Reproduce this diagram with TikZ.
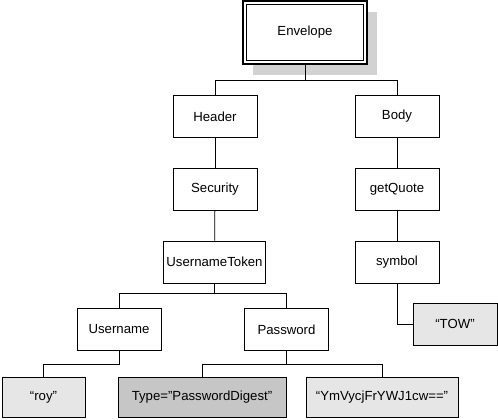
\documentclass[tikz,border=0pt]{standalone}
\usepackage{fontspec}
\setmainfont{Liberation Sans}
\usetikzlibrary{shadows}

\definecolor{leafgray}{HTML}{E6E6E6}
\definecolor{attrgray}{HTML}{C6C6C6}
\definecolor{shadowgray}{HTML}{D2D2D2}

\begin{document}
\begin{tikzpicture}[
        x=1pt, y=1pt,
        every node/.style={font=\fontsize{13.2}{16}\selectfont},
        elem/.style={
            rectangle,
            draw,
            line width=0.8pt,
            minimum width=84pt,
            minimum height=42pt,
            inner xsep=3pt
        },
        root/.style={
            elem,
            fill=white,
            minimum width=124pt,
            minimum height=63pt,
            line width=1.3pt,
            drop shadow={shadow xshift=10pt, shadow yshift=-11pt,
                fill=shadowgray, opacity=1}
        },
        rootinner/.style={
            draw,
            line width=0.8pt,
            minimum width=117pt,
            minimum height=56pt
        },
        leaf/.style={
            elem,
            fill=leafgray,
            minimum height=40pt
        },
        attr/.style={
            leaf,
            fill=attrgray
        },
        link/.style={draw, line width=0.8pt}
    ]
    \useasboundingbox (0,0) rectangle (498,420);

    % Root
    \node[root] (env) at (305,387.5) {};
    \node[rootinner] (envin) at (env.center) {Envelope};

    % Header branch
    \node[elem] (hdr) at (215,303.5) {Header};
    \node[elem] (sec) at (215,230.5) {Security};
    \node[elem] (ut) at (214.5,158) {UsernameToken};
    \node[elem] (un) at (119,90.5) {Username};
    \node[elem] (pw) at (286.5,90.5) {Password};
    \node[leaf, minimum width=83pt] (roy) at (43.5,23) {``roy''};
    \node[attr, minimum width=168pt] (typ) at (202,23) {Type="PasswordDigest"};
    \node[leaf, minimum width=152pt] (val) at (382,23) {``YmVycjFrYWJ1cw==''};

    % Body branch
    \node[elem] (body) at (397,303.5) {Body};
    \node[elem] (gq) at (397,230.5) {getQuote};
    \node[elem] (sym) at (397,158) {symbol};
    \node[leaf, minimum height=42pt] (tow) at (455,96) {``TOW''};

    % Connectors
    \draw[link] (env.south) -- ++(0,-16) -| (hdr.north);
    \draw[link] (env.south) -- ++(0,-16) -| (body.north);
    \draw[link] (hdr) -- (sec);
    \draw[link] (sec) -- (ut);
    \draw[link] (ut.south) -- ++(0,-10) -| (un.north);
    \draw[link] (ut.south) -- ++(0,-10) -| (pw.north);
    \draw[link] (un.south) -- ++(0,-14) -| (roy.north);
    \draw[link] (pw.south) -- ++(0,-14) -| (typ.north);
    \draw[link] (pw.south) -- ++(0,-14) -| (val.north);
    \draw[link] (body) -- (gq);
    \draw[link] (gq) -- (sym);
    \draw[link] (sym.south) |- (tow.west);

\end{tikzpicture}
\end{document}
